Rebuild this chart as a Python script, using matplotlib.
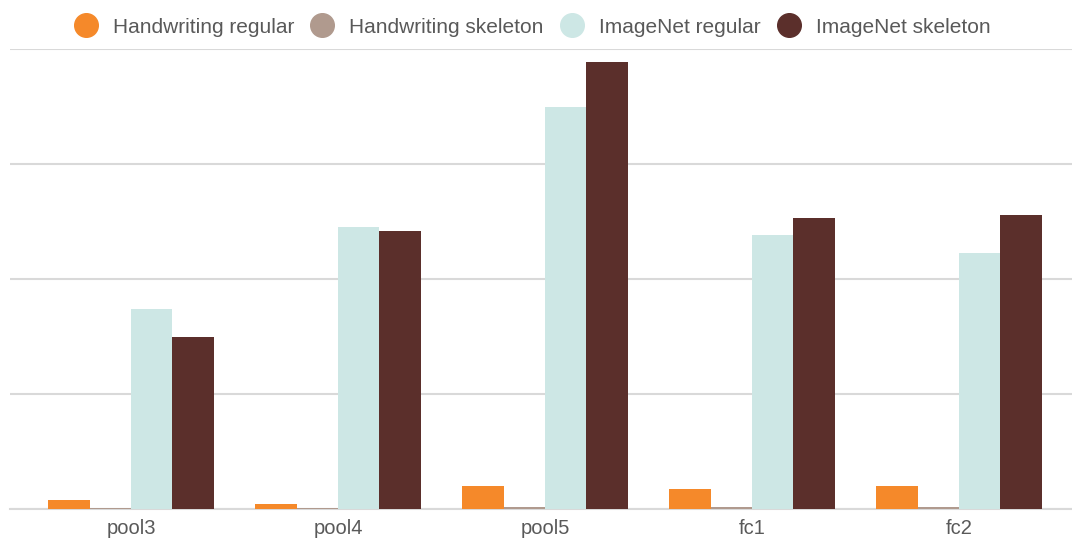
import matplotlib
matplotlib.use("Agg")
import matplotlib.pyplot as plt
import numpy as np

layers = ["pool3", "pool4", "pool5", "fc1", "fc2"]
series = ["Handwriting regular", "Handwriting skeleton", "ImageNet regular", "ImageNet skeleton"]
hw_regular = [0.08, 0.045, 0.20, 0.175, 0.20]
hw_skeleton = [0.006, 0.006, 0.018, 0.018, 0.02]
in_regular = [1.74, 2.45, 3.50, 2.38, 2.23]
in_skeleton = [1.50, 2.42, 3.89, 2.53, 2.56]
colors = ["#F5892A", "#B09A8E", "#CDE7E5", "#5B2F2B"]

plt.rcParams["font.family"] = ["Liberation Sans", "DejaVu Sans"]

fig = plt.figure(figsize=(10.72, 5.4), dpi=100)
ax = fig.add_axes([10 / 1072, 31 / 540, 1062 / 1072, 460 / 540])

x = np.arange(len(layers))
w = 0.2
for i, (vals, name, c) in enumerate(zip([hw_regular, hw_skeleton, in_regular, in_skeleton], series, colors)):
    ax.bar(x + (i - 1.5) * w, vals, w, color=c, label=name, zorder=3)

ax.set_xlim(-0.585, 4.546)
ax.set_ylim(0, 4)
ax.set_yticks([0, 1, 2, 3, 4])
ax.yaxis.grid(True, color="#d9d9d9", linewidth=1.5, zorder=0)
ax.tick_params(axis="y", left=False, labelleft=False)
ax.tick_params(axis="x", length=0, labelsize=14.5, labelcolor="#595959", pad=7)
ax.set_xticks(x)
ax.set_xticklabels(layers)
for s in ["top", "right", "left"]:
    ax.spines[s].set_visible(False)
ax.spines["bottom"].set_color("#d9d9d9")
ax.spines["bottom"].set_linewidth(1.5)

handles = [plt.Line2D([], [], marker="o", linestyle="", markersize=17, color=c) for c in colors]
fig.legend(handles, series, loc="center", bbox_to_anchor=(0.494, 1 - 27 / 540), ncol=4,
           frameon=False, fontsize=15, labelcolor="#595959", handletextpad=0.5,
           handlelength=1.6, columnspacing=0.55)

fig.savefig("out.png", dpi=100)
